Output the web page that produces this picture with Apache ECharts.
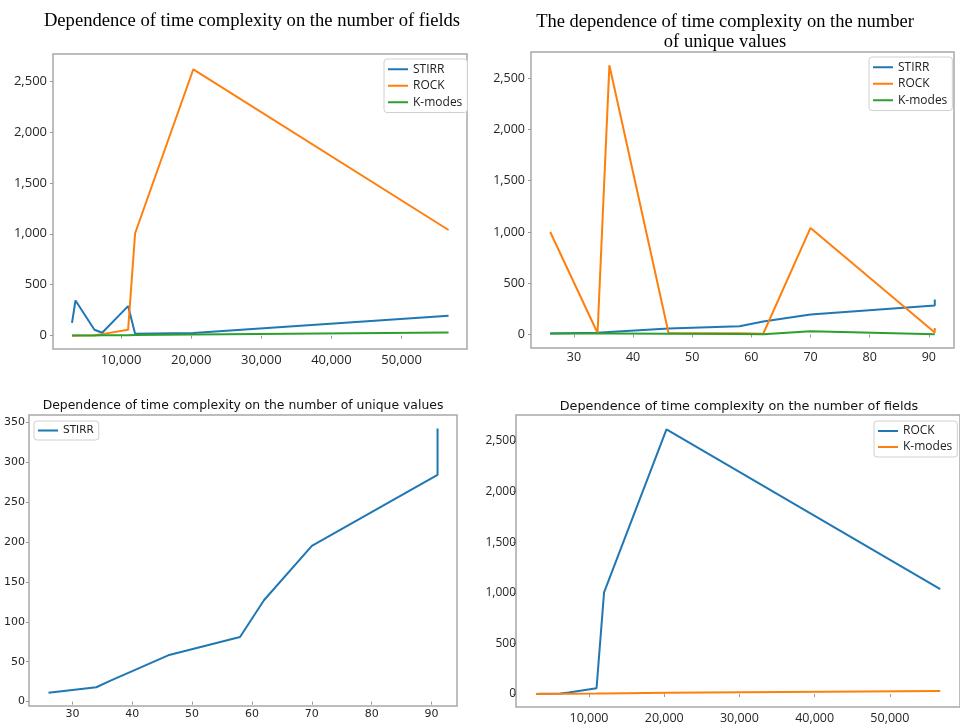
<!DOCTYPE html>
<html>
<head>
<meta charset="utf-8">
<script src="https://cdn.jsdelivr.net/npm/echarts@6/dist/echarts.min.js"></script>
<style>
html,body{margin:0;padding:0;background:#fff;}
#chart{width:960px;height:726px;}
</style>
</head>
<body>
<div id="chart"></div>
<script>
// ---- data ----
const fieldsX       = [3000, 3500, 6200, 7300, 11000, 12000, 20300, 56700];
const fieldsStirr   = [125, 345, 58, 28, 290, 18, 25, 196];
const fieldsRock    = [0, 2, 5, 15, 57, 1005, 2615, 1037];
const fieldsKmodes  = [1, 1, 2, 3, 5, 6, 12, 30];

const uniqX         = [26, 34, 36, 46, 58, 62, 70, 91, 91];
const uniqStirr     = [11, 18, 25, 58, 81, 127, 195, 284, 342];
const uniqRock      = [1000, 15, 2625, 15, 12, 8, 1040, 20, 65];
const uniqKmodes    = [10, 10, 10, 8, 6, 3, 33, 3, 3];

const fieldTicks    = [10000, 20000, 30000, 40000, 50000];
const timeTicks     = [0, 500, 1000, 1500, 2000, 2500];
const uniqTicks     = [30, 40, 50, 60, 70, 80, 90];
const stirrTicks    = [0, 50, 100, 150, 200, 250, 300, 350];

const titles = [
  'Dependence of time complexity on the number of fields',
  'The dependence of time complexity on the number\nof unique values',
  'Dependence of time complexity on the number of unique values',
  'Dependence of time complexity on the number of fields'
];

const BLUE = '#1f77b4', ORANGE = '#ff7f0e', GREEN = '#2ca02c';
const zip = (xs, ys) => xs.map((x, i) => [x, ys[i]]);
const fmt = v => Number(v).toLocaleString('en-US');

function axis(gridIndex, min, max, ticks, font, size, margin) {
  return {
    type: 'value', gridIndex, min, max,
    splitLine: {show: false},
    axisLine: {show: false},
    axisTick: {show: true, length: 3, customValues: ticks, lineStyle: {color: '#999', width: 1}},
    axisLabel: {customValues: ticks, formatter: fmt, fontFamily: font, fontSize: size, color: '#262626', margin}
  };
}
function line(name, data, color, gi) {
  return {
    type: 'line', name, data, xAxisIndex: gi, yAxisIndex: gi,
    showSymbol: false, symbol: 'none', silent: true,
    lineStyle: {width: 2, color}, itemStyle: {color}
  };
}
function legend(left, top, items, font, size, lh, gap, pad) {
  return {
    orient: 'vertical', left, top, padding: pad, itemGap: gap,
    icon: 'rect', itemWidth: 20, itemHeight: 2,
    borderColor: '#d0d0d0', borderWidth: 1, borderRadius: 3, backgroundColor: '#fff',
    selectedMode: false,
    textStyle: {fontFamily: font, fontSize: size, lineHeight: lh, color: '#222'},
    data: items.map(([name, color]) => ({name, itemStyle: {color}}))
  };
}

const gridStyle = {show: true, borderColor: '#a8a8a8', borderWidth: 1.5, backgroundColor: 'transparent'};

const option = {
  animation: false,
  backgroundColor: '#fff',
  title: [
    {text: titles[0], left: 252, top: 12, textAlign: 'center', padding: 0,
     textStyle: {fontFamily: 'Liberation Serif', fontSize: 18.6, fontWeight: 'normal', color: '#000'}},
    {text: titles[1], left: 725, top: 12, textAlign: 'center', padding: 0,
     textStyle: {fontFamily: 'Liberation Serif', fontSize: 18.5, lineHeight: 20, fontWeight: 'normal', color: '#000'}},
    {text: titles[2], left: 243, top: 400, textAlign: 'center', padding: 0,
     textStyle: {fontFamily: 'DejaVu Sans', fontSize: 12.4, fontWeight: 'normal', color: '#111'}},
    {text: titles[3], left: 739, top: 400, textAlign: 'center', padding: 0,
     textStyle: {fontFamily: 'DejaVu Sans', fontSize: 12.8, fontWeight: 'normal', color: '#111'}}
  ],
  grid: [
    Object.assign({left: 53, top: 54, width: 414, height: 295}, gridStyle),
    Object.assign({left: 531, top: 52, width: 423, height: 296}, gridStyle),
    Object.assign({left: 29, top: 415, width: 428, height: 291}, gridStyle),
    Object.assign({left: 516, top: 415, width: 448, height: 292}, gridStyle)
  ],
  xAxis: [
    axis(0, 290, 59330, fieldTicks, 'Open Sans', 13, 5),
    axis(1, 22.75, 94.25, uniqTicks, 'Open Sans', 12.5, 3),
    axis(2, 22.75, 94.25, uniqTicks, 'DejaVu Sans', 11, 3),
    axis(3, 290, 59330, fieldTicks, 'Open Sans', 12.5, 5)
  ],
  yAxis: [
    axis(0, -131, 2765, timeTicks, 'Open Sans', 13, 6),
    axis(1, -131, 2755, timeTicks, 'Open Sans', 12.5, 6),
    axis(2, -5.5, 359, stirrTicks, 'DejaVu Sans', 11, 4),
    axis(3, -128, 2757, timeTicks, 'Open Sans', 12, 0)
  ],
  legend: [
    legend(384, 59, [['STIRR', BLUE], ['ROCK', ORANGE], ['K-modes', GREEN]], 'Open Sans', 12, 14.5, 2, [3, 5, 3, 4]),
    legend(869, 57, [['STIRR', BLUE], ['ROCK', ORANGE], ['K-modes', GREEN]], 'Open Sans', 12, 14.5, 2, [3, 5, 3, 4]),
    legend(34, 421, [['STIRR', BLUE]], 'DejaVu Sans', 10.5, 13, 2, [3, 5, 3, 4]),
    legend(874, 421, [['ROCK', BLUE], ['K-modes', ORANGE]], 'Open Sans', 12, 14, 2, [3, 5, 3, 4])
  ],
  series: [
    line('STIRR', zip(fieldsX, fieldsStirr), BLUE, 0),
    line('ROCK', zip(fieldsX, fieldsRock), ORANGE, 0),
    line('K-modes', zip(fieldsX, fieldsKmodes), GREEN, 0),
    line('STIRR', zip(uniqX, uniqStirr), BLUE, 1),
    line('ROCK', zip(uniqX, uniqRock), ORANGE, 1),
    line('K-modes', zip(uniqX, uniqKmodes), GREEN, 1),
    line('STIRR', zip(uniqX, uniqStirr), BLUE, 2),
    line('ROCK', zip(fieldsX, fieldsRock), BLUE, 3),
    line('K-modes', zip(fieldsX, fieldsKmodes), ORANGE, 3)
  ]
};

const chart = echarts.init(document.getElementById('chart'), null, {renderer: 'canvas'});
chart.setOption(option);
</script>
</body>
</html>
